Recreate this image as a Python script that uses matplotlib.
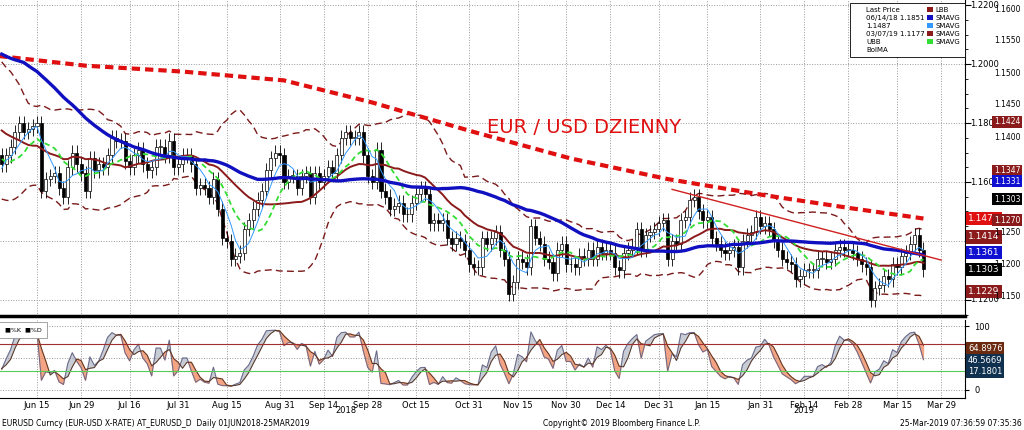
import numpy as np, pandas as pd, matplotlib
matplotlib.use("Agg")
import matplotlib.pyplot as plt
from matplotlib.patches import Rectangle

history_closes = [1.2320,1.2300,1.2280,1.2270,1.2280,1.2320,1.2350,1.2370,1.2330,1.2320,1.2330,1.2370,1.2380,1.2340,1.2290,1.2270,1.2210,1.2190,1.2200,1.2170,1.2130,1.2080,
                  1.1990,1.1960,1.1990,1.1920,1.1880,1.1920,1.1930,1.1940,1.1920,1.1840,1.1810,1.1770,1.1790,1.1780,1.1720,1.1690,1.1720,1.1640,1.1550,1.1670,1.1660,1.1690]
closes = [1.1660,1.1690,1.1720,1.1770,1.1800,1.1770,1.1780,1.1790,1.1800,1.1570,1.1610,1.1620,1.1630,1.1580,1.1550,1.1650,1.1700,1.1660,1.1630,1.1570,1.1680,
          1.1640,1.1660,1.1650,1.1690,1.1750,1.1740,1.1740,1.1670,1.1650,1.1690,1.1710,1.1660,1.1640,1.1650,1.1720,1.1720,1.1690,1.1740,1.1650,1.1660,1.1690,1.1690,
          1.1660,1.1580,1.1590,1.1580,1.1550,1.1610,1.1510,1.1410,1.1400,1.1340,1.1350,1.1360,1.1440,1.1470,1.1510,1.1540,1.1570,1.1640,1.1680,1.1700,1.1690,1.1600,1.1620,
          1.1620,1.1580,1.1620,1.1630,1.1550,1.1630,1.1600,1.1620,1.1650,1.1630,1.1690,1.1750,1.1770,1.1750,1.1750,1.1770,1.1690,1.1620,1.1600,1.1710,
          1.1570,1.1550,1.1510,1.1520,1.1530,1.1490,1.1490,1.1530,1.1560,1.1580,1.1560,1.1460,1.1470,1.1460,1.1470,1.1410,1.1390,1.1410,1.1400,1.1370,1.1320,1.1310,1.1310,
          1.1410,1.1390,1.1410,1.1430,1.1370,1.1340,1.1220,1.1260,1.1340,1.1330,1.1310,1.1450,1.1410,1.1390,1.1340,1.1330,1.1290,1.1370,1.1390,1.1320,1.1320,1.1310,
          1.1350,1.1340,1.1370,1.1340,1.1380,1.1360,1.1370,1.1360,1.1310,1.1300,1.1360,1.1370,1.1380,1.1440,1.1370,1.1420,1.1430,1.1440,1.1460,1.1470,
          1.1340,1.1400,1.1390,1.1470,1.1480,1.1540,1.1550,1.1500,1.1470,1.1480,1.1410,1.1390,1.1370,1.1360,1.1370,1.1380,1.1310,1.1400,1.1420,1.1430,1.1480,1.1450,
          1.1460,1.1440,1.1400,1.1370,1.1340,1.1330,1.1320,1.1270,1.1280,1.1300,1.1300,1.1300,1.1340,1.1340,1.1330,1.1340,1.1370,1.1380,1.1370,1.1370,
          1.1360,1.1340,1.1320,1.1310,1.1200,1.1240,1.1250,1.1280,1.1270,1.1320,1.1310,1.1350,1.1360,1.1390,1.1420,1.1370,1.1303]
sma200_dates = ["2018-06-01","2018-07-02","2018-08-01","2018-09-03","2018-10-01","2018-11-01","2018-12-03","2019-01-02","2019-02-01","2019-03-01","2019-03-25"]
sma200_vals = [1.2030,1.1995,1.1975,1.1945,1.1870,1.1770,1.1680,1.1610,1.1555,1.1510,1.1476]
trend_dates = ["2019-01-03","2019-03-29"]
trend_vals = [1.1575,1.1335]
tick_dates = ["2018-06-15","2018-06-29","2018-07-16","2018-07-31","2018-08-15","2018-08-31","2018-09-14","2018-09-28","2018-10-15","2018-10-31",
              "2018-11-15","2018-11-30","2018-12-14","2018-12-31","2019-01-15","2019-01-31","2019-02-14","2019-02-28","2019-03-15","2019-03-29"]
tick_labels = ["Jun 15","Jun 29","Jul 16","Jul 31","Aug 15","Aug 31","Sep 14","Sep 28","Oct 15","Oct 31",
               "Nov 15","Nov 30","Dec 14","Dec 31","Jan 15","Jan 31","Feb 14","Feb 28","Mar 15","Mar 29"]

alld = pd.bdate_range(end="2019-03-25", periods=len(history_closes)+len(closes))
allc = pd.Series(history_closes+closes, index=alld)
ext = pd.bdate_range(alld[0], "2019-04-05")
def xi(d): return ext.searchsorted(pd.Timestamp(d)) - len(history_closes)

n0 = len(history_closes)
s = allc
opens = s.shift(1).bfill()
hi = np.maximum(opens, s) + 0.0025
lo = np.minimum(opens, s) - 0.0025
sma50 = s.rolling(50, min_periods=1).mean()
ma20 = s.rolling(20, min_periods=1).mean()
sd20 = s.rolling(20, min_periods=2).std().fillna(0)
sma10 = s.rolling(10, min_periods=1).mean()
sma5 = s.rolling(5, min_periods=1).mean()
h14 = hi.rolling(14, min_periods=1).max(); l14 = lo.rolling(14, min_periods=1).min()
K = 100*(s-l14)/(h14-l14)
D = K.rolling(3, min_periods=1).mean()

x = np.arange(len(closes))
sl = slice(n0, None)
# x scale from reference: Jun 15 at 37 px, Mar 15 at 897 px, axes width 965 px
i1, i2 = xi("2018-06-15"), xi("2019-03-15")
pp = (897-37)/(i2-i1)
xl = (i1 - 37/pp, i1 + (965-37)/pp)

fig = plt.figure(figsize=(10.24, 4.3), dpi=100)
ax = fig.add_axes([0.0, 1-316/430, 965/1024, 316/430])
ax2 = fig.add_axes([0.0, 1-398/430, 965/1024, 78/430])
for a in (ax, ax2):
    a.set_xlim(*xl)
    for sp in ["top","left"]: a.spines[sp].set_visible(False)
    a.yaxis.tick_right()
xt = [xi(d) for d in tick_dates]
YL = (1.1145, 1.2218)
ax.set_ylim(*YL)
ymap = lambda v: (v-YL[0])/(YL[1]-YL[0])
ax.set_yticks([1.12,1.14,1.16,1.18,1.20,1.22])
ax.set_yticks(np.arange(1.115, 1.2201, 0.005), minor=True)
ax.set_yticklabels([]); ax.tick_params(axis="y", length=4, direction="out")
ax.tick_params(axis="y", which="minor", length=2)
for v in [1.12,1.14,1.16,1.18,1.20,1.22]:
    ax.text(1.005, ymap(v), f"{v:.4f}", transform=ax.transAxes, fontsize=6, va="center")
ax.set_xticks(xt); ax.set_xticklabels([])
ax.tick_params(axis="x", length=0)
ax.grid(True, ls=":", color="#999999", lw=0.7)
ax.spines["bottom"].set_linewidth(2.5)

o = opens.values[sl]; c = s.values[sl]; h = hi.values[sl]; l = lo.values[sl]
for i in x:
    ax.vlines(i, l[i], h[i], color="black", lw=0.6, zorder=3)
    up = c[i] >= o[i]
    ax.add_patch(Rectangle((i-0.35, min(o[i],c[i])), 0.7, max(abs(c[i]-o[i]),0.0003),
                 facecolor="white" if up else "black", edgecolor="black", lw=0.5, zorder=4))
ax.plot(x, (ma20+2*sd20).values[sl], color="#7a1a1a", ls=(0,(5,3)), lw=1)
ax.plot(x, (ma20-2*sd20).values[sl], color="#7a1a1a", ls=(0,(5,3)), lw=1)
ax.plot(x, ma20.values[sl], color="#8b1a1a", lw=1.4, zorder=5)
ax.plot(x, sma10.values[sl], color="#33dd33", ls=(0,(3,2)), lw=1.3, zorder=5)
ax.plot(x, sma5.values[sl], color="#3399ff", lw=0.7, zorder=5)
ax.plot(x, sma50.values[sl], color="#1010c0", lw=2.4, zorder=5)
ax.plot([xi(d) for d in sma200_dates], sma200_vals, color="#e01010", ls=(0,(2,1.2)), lw=3)
ax.plot([xi(d) for d in trend_dates], trend_vals, color="#d02020", lw=1, zorder=6)
ax.text(xi("2018-12-31")-39, 1.1765, "EUR / USD DZIENNY", color="#e01010", fontsize=14)

for v, col, lab in [(1.1476,"#e01010","1.1476"),(1.1414,"#8b1a1a","1.1414"),(1.1361,"#1010d0","1.1361"),(1.1303,"black","1.1303"),(1.1229,"#8b1a1a","1.1229")]:
    ax.text(1.003, ymap(v), lab, transform=ax.transAxes, fontsize=6.5, color="white", va="center",
            bbox=dict(boxstyle="square,pad=0.25", fc=col, ec="none"), zorder=10)
# outer scale
oy = lambda v: 1-(9+(1.16-v)/0.005*32)/430
for v in [1.16,1.155,1.15,1.145,1.14,1.125,1.12,1.115]:
    fig.text(994/1024, oy(v), f"{v:.4f}", fontsize=5.5, va="center")
for v, col in [(1.1424,"#8b1a1a"),(1.1347,"#8b1a1a"),(1.1331,"#1010d0"),(1.1303,"black"),(1.1270,"#8b1a1a")]:
    fig.text(994/1024, oy(v), f"{v:.4f}", fontsize=5.5, va="center", color="white",
             bbox=dict(boxstyle="square,pad=0.2", fc=col, ec="none"))
# legend box
leg = ["Last Price","06/14/18 1.1851","1.1487","03/07/19 1.1177","UBB","BolMA"]
leg2 = [("LBB","#8b1a1a"),("SMAVG","#1010c0"),("SMAVG","#3399ff"),("SMAVG","#8b1a1a"),("SMAVG","#33dd33")]
fig.patches.append(Rectangle((850/1024, 1-57/430), 115/1024, 54/430, transform=fig.transFigure, fc="white", ec="black", lw=0.6))
for i, t in enumerate(leg):
    fig.text(866/1024, 1-(10+i*8)/430, t, fontsize=5, va="center")
for i, (t, col) in enumerate(leg2):
    fig.text(935/1024, 1-(10+i*8)/430, t, fontsize=5, va="center")
    fig.patches.append(Rectangle((927/1024, 1-(12+i*8)/430), 6/1024, 5/430, transform=fig.transFigure, fc=col))

# oscillator
ax2.set_ylim(-13, 110)
ax2.set_yticks([0, 50, 100]); ax2.tick_params(axis="y", labelsize=6, length=3)
ax2.set_xticks(xt); ax2.set_xticklabels(tick_labels, fontsize=6)
ax2.tick_params(axis="x", length=0, pad=2)
ax2.grid(True, ls=":", color="#999999", lw=0.7)
Kv = K.values[sl]; Dv = D.values[sl]
ax2.plot(x, Kv, color="#666688", lw=0.7); ax2.plot(x, Dv, color="#553322", lw=0.7)
ax2.fill_between(x, Kv, Dv, where=Kv>=Dv, color="#c8ccd4", interpolate=True)
ax2.fill_between(x, Kv, Dv, where=Kv<Dv, color="#f4a482", interpolate=True)
ax2.axhline(72, color="#a03030", lw=0.8); ax2.axhline(30, color="#55cc55", lw=0.8)
for v, col, lab in [(64.9,"#6b2a10","64.8976"),(46.6,"#103050","46.5669"),(28.0,"#103050","17.1801")]:
    ax2.text(1.003, (v+13)/123, lab, transform=ax2.transAxes, fontsize=6, color="white", va="center",
             bbox=dict(boxstyle="square,pad=0.2", fc=col, ec="none"))
ax2.text(0.005, 0.85, "■%K  ■%D", transform=ax2.transAxes, fontsize=4.5, bbox=dict(fc="white", ec="gray", lw=0.5))
def fx(d): return (xi(d)-xl[0])/(xl[1]-xl[0])*965/1024
fig.text(fx("2018-09-21"), 1-413/430, "2018", fontsize=6, ha="center")
fig.text(fx("2019-02-14"), 1-413/430, "2019", fontsize=6, ha="center")
fig.text(0.002, 1-424/430, "EURUSD Curncy (EUR-USD X-RATE) AT_EURUSD_D  Daily 01JUN2018-25MAR2019", fontsize=5.5, va="center")
fig.text(0.53, 1-424/430, "Copyright© 2019 Bloomberg Finance L.P.", fontsize=5.5, va="center")
fig.text(0.998, 1-424/430, "25-Mar-2019 07:36:59 07:35:36", fontsize=5.5, va="center", ha="right")
fig.savefig("out.png", dpi=100)
